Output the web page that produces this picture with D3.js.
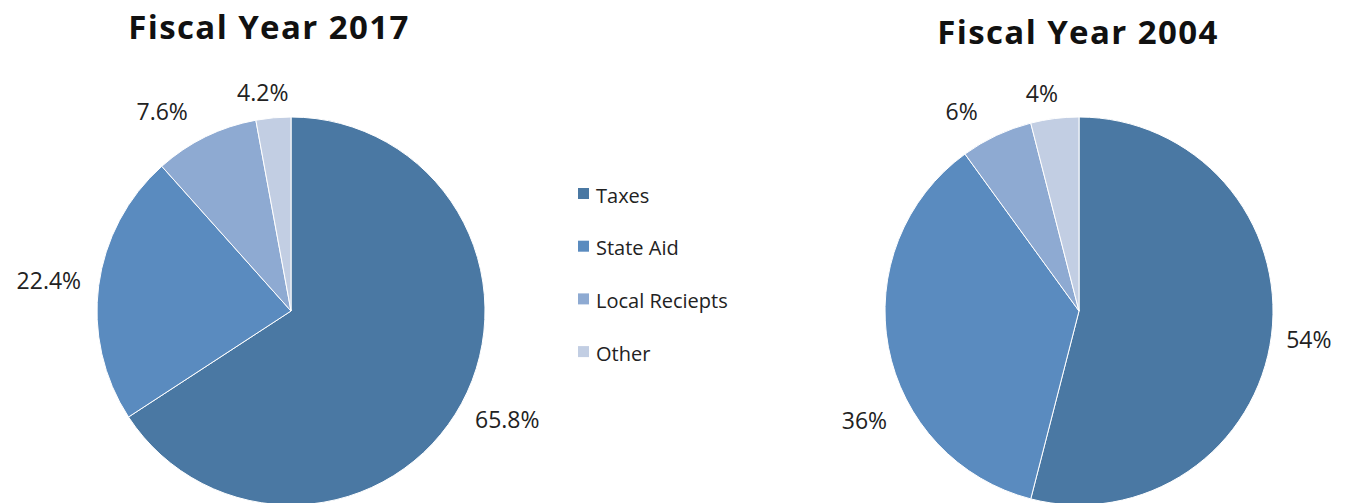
<!DOCTYPE html>
<html>
<head>
<meta charset="utf-8">
<script src="https://cdn.jsdelivr.net/npm/d3@7"></script>
<style>
body{margin:0;background:#fff;}
svg{display:block;font-family:"Open Sans",Lato,sans-serif;}
</style>
</head>
<body>
<div class="container"></div>
<script>
var categories = ["Taxes","State Aid","Local Reciepts","Other"];
var color = ["#4a78a3","#5a8bbf","#8eaad2","#c2cee3"];

var values2017 = [65.8, 22.6, 8.7, 2.9];
var labels2017 = ["65.8%","22.4%","7.6%","4.2%"];
var values2004 = [54, 36, 6, 4];
var labels2004 = ["54%","36%","6%","4%"];

// layout only
var W = 1350, H = 503, R = 194;
var charts = [
	{title:"Fiscal Year 2017", values:values2017, labels:labels2017, cx:291, cy:311, tx:269, ty:39,
	 nudge:[[5,4],[-4,-2],[-26,-3],[-7,-1]]},
	{title:"Fiscal Year 2004", values:values2004, labels:labels2004, cx:1079, cy:311, tx:1078, ty:44,
	 nudge:[[1,1],[12,68],[-22,-2],[-9,-1]]}
];

var svg = d3.select('.container').append('svg')
	.attr("width", W)
	.attr("height", H);

var pie = d3.pie().sort(null);
var arc = d3.arc().innerRadius(0).outerRadius(R);

charts.forEach(function(c){
	var g = svg.append('g').attr("transform","translate("+c.cx+","+c.cy+")");
	var arcs = pie(c.values);

	g.selectAll('path')
		.data(arcs).enter()
		.append('path')
		.attr("d", arc)
		.attr("fill", function(d,i){return color[i];})
		.attr("stroke","#fff")
		.attr("stroke-width",1);

	g.selectAll('text.lbl')
		.data(arcs).enter()
		.append('text')
		.attr("class","lbl")
		.style("font-size","23px")
		.attr("fill","#222")
		.attr("text-anchor","middle")
		.attr("dominant-baseline","central")
		.text(function(d,i){return c.labels[i];})
		.each(function(d,i){
			var a = (d.startAngle + d.endAngle)/2;
			var s = Math.sin(a), co = Math.cos(a);
			var w = this.getComputedTextLength(), h = 22;
			var x = s*(R+14) + s*w/2 + c.nudge[i][0];
			var y = -co*(R+14) - co*h/2 + c.nudge[i][1];
			d3.select(this).attr("x", x).attr("y", y);
		});

	svg.append('text')
		.attr("x", c.tx)
		.attr("y", c.ty)
		.attr("text-anchor","middle")
		.style("font-size","33px")
		.style("font-weight","700")
		.style("letter-spacing","1.4px")
		.attr("fill","#111")
		.text(c.title);
});

var legend = svg.append('g').attr("transform","translate(578,188)");
var item = legend.selectAll('g')
	.data(categories).enter()
	.append('g')
	.attr("transform",function(d,i){return "translate(0,"+(i*52.7)+")";});
item.append('rect')
	.attr("width",11).attr("height",11)
	.attr("fill",function(d,i){return color[i];});
item.append('text')
	.attr("x",18).attr("y",14.5)
	.style("font-size","20px")
	.attr("fill","#222")
	.text(function(d){return d;});
</script>
</body>
</html>
